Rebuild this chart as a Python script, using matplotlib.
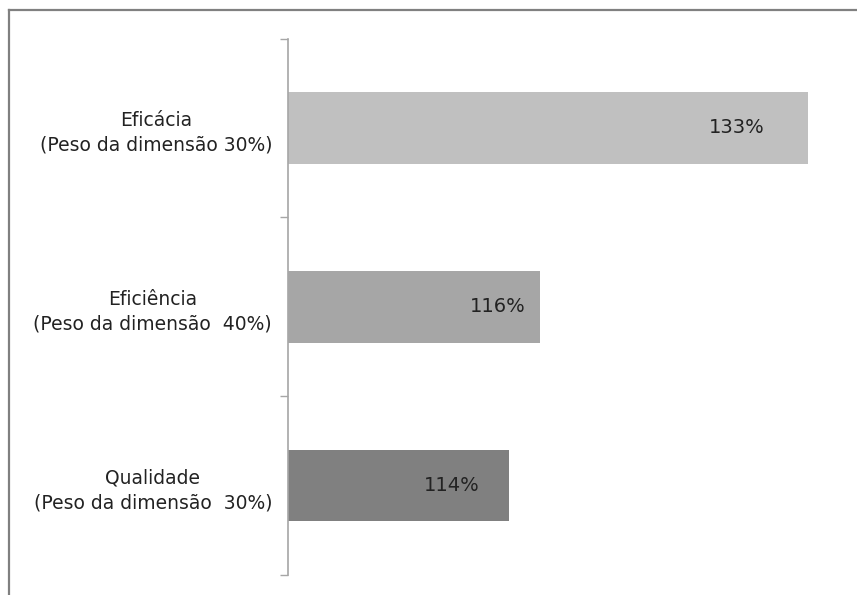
import matplotlib.pyplot as plt
from matplotlib.lines import Line2D

plt.rcParams["font.family"] = ["DejaVu Sans"]

categories = [
    "Eficácia\n(Peso da dimensão 30%)",
    "Eficiência\n(Peso da dimensão  40%)",
    "Qualidade\n(Peso da dimensão  30%)",
]
values = [133, 116, 114]
value_labels = ["133%", "116%", "114%"]
bar_colors = ["#c0c0c0", "#a6a6a6", "#808080"]
# how far left of the bar end each value label sits (data units)
label_offset = [4.5, 2.7, 3.6]

fig = plt.figure(figsize=(8.57, 5.95), dpi=100)
ax = fig.add_axes([288 / 857, 20 / 595, 569 / 857, 536.5 / 595])

ypos = list(range(len(categories)))
ax.barh(ypos, [v - 100 for v in values], left=100, height=0.4,
        color=bar_colors, edgecolor="none", zorder=2)

for y, v, lab, off in zip(ypos, values, value_labels, label_offset):
    ax.text(v - off, y, lab, ha="center", va="center",
            fontsize=14, color="#222222", zorder=3)

ax.set_xlim(100, 100 + 569 / 15.76)
ax.set_ylim(2.5, -0.5)

ax.set_yticks(ypos)
ax.set_yticklabels(categories, fontsize=13.5, color="#222222", linespacing=1.4)
for t in ax.get_yticklabels():
    t.set_multialignment("center")
ax.tick_params(axis="y", which="major", length=0, pad=11.5)
ax.set_yticks([-0.5, 0.5, 1.5, 2.5], minor=True)
ax.tick_params(axis="y", which="minor", length=5.5, width=1, color="#a6a6a6", direction="out")
ax.set_xticks([])

for s in ["top", "right", "bottom"]:
    ax.spines[s].set_visible(False)
ax.spines["left"].set_color("#a6a6a6")
ax.spines["left"].set_linewidth(1.2)

# outer frame (only top and left visible in the cropped original)
fig.add_artist(Line2D([8.5 / 857, 1], [1 - 9.5 / 595, 1 - 9.5 / 595],
                      transform=fig.transFigure, color="#808080", lw=1.6))
fig.add_artist(Line2D([8.5 / 857, 8.5 / 857], [0, 1 - 9.5 / 595],
                      transform=fig.transFigure, color="#808080", lw=1.6))

fig.savefig("out.png", dpi=100, facecolor="white")
